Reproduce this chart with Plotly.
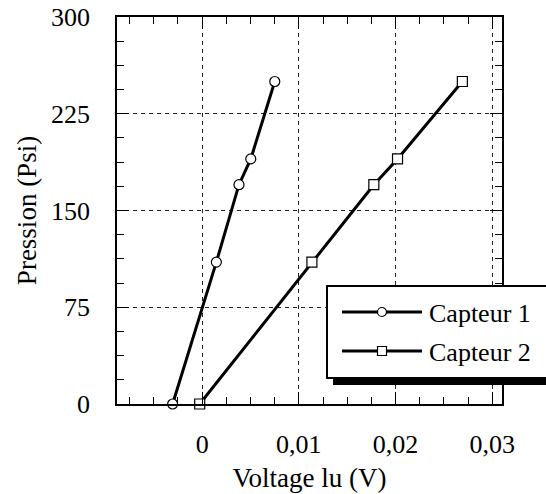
import plotly.graph_objects as go

# ---- data ----
capteur1_v = [-0.00305, 0.00147, 0.00381, 0.00503, 0.00751]
capteur1_p = [0, 110, 170, 190, 250]
capteur2_v = [-0.00025, 0.01135, 0.01775, 0.0202, 0.0269]
capteur2_p = [0, 110, 170, 190, 250]
series_names = ["Capteur 1", "Capteur 2"]
x_tickvals = [0, 0.01, 0.02, 0.03]
x_ticktext = ["0", "0,01", "0,02", "0,03"]
y_tickvals = [0, 75, 150, 225, 300]
y_ticktext = ["0", "75", "150", "225", "300"]

W, H = 546, 494
ML, MR, MT, MB = 117, 44, 17, 90
PW, PH = W - ML - MR, H - MT - MB
FONT = "Liberation Serif"


def px(x):
    return (x - ML) / PW


def py(y):
    return (H - MB - y) / PH


fig = go.Figure()
for name, xs, ys, sym, sz in [
    (series_names[0], capteur1_v, capteur1_p, "circle", 10),
    (series_names[1], capteur2_v, capteur2_p, "square", 10),
]:
    fig.add_trace(go.Scatter(
        x=xs, y=ys, name=name, mode="lines+markers",
        line=dict(color="black", width=3),
        marker=dict(symbol=sym, size=sz, color="white",
                    line=dict(color="black", width=1.2)),
        cliponaxis=False, showlegend=False,
    ))

axis_common = dict(
    showline=True, linecolor="black", linewidth=1.5, mirror="allticks",
    ticks="inside", ticklen=12, tickwidth=1.2, tickcolor="black",
    showgrid=True, gridcolor="#222", gridwidth=1, griddash="4px,4px",
    zeroline=False, tickangle=0,
    tickfont=dict(family=FONT, size=26, color="black"),
)

fig.update_xaxes(
    range=[-0.0088, 0.031], tickvals=x_tickvals, ticktext=x_ticktext,
    minor=dict(dtick=0.0025, tick0=0, ticks="inside", ticklen=7,
               tickcolor="black", tickwidth=1, showgrid=False),
    ticklabelstandoff=16,
    title=dict(text="Voltage lu (V)", font=dict(family=FONT, size=27, color="black"),
               standoff=10),
    **axis_common,
)
fig.update_yaxes(
    range=[0, 300], tickvals=y_tickvals, ticktext=y_ticktext,
    minor=dict(dtick=18.75, tick0=0, ticks="inside", ticklen=7,
               tickcolor="black", tickwidth=1, showgrid=False),
    ticklabelstandoff=20,
    title=dict(text="Pression (Psi)", font=dict(family=FONT, size=27, color="black"),
               standoff=7),
    **axis_common,
)

# ---- custom legend with drop shadow ----
shapes = []
shapes.append(dict(type="rect", xref="paper", yref="paper", layer="above",
                   x0=px(333), x1=px(570), y0=py(385), y1=py(292),
                   fillcolor="black", line=dict(width=0)))
shapes.append(dict(type="rect", xref="paper", yref="paper", layer="above",
                   x0=px(327), x1=px(565), y0=py(378), y1=py(286),
                   fillcolor="white", line=dict(color="black", width=2)))
leg_y = [312, 351]
leg_sym = ["circle", "rect"]
annotations = []
for name, yy, sym in zip(series_names, leg_y, leg_sym):
    shapes.append(dict(type="line", xref="paper", yref="paper", layer="above",
                       x0=px(342), x1=px(422), y0=py(yy), y1=py(yy),
                       line=dict(color="black", width=3)))
    r = 4.5
    shapes.append(dict(type=sym, xref="paper", yref="paper", layer="above",
                       x0=px(382 - r), x1=px(382 + r), y0=py(yy + r), y1=py(yy - r),
                       fillcolor="white", line=dict(color="black", width=1.2)))
    annotations.append(dict(text=name, xref="paper", yref="paper",
                            x=px(427), y=py(yy + 1), xanchor="left", yanchor="middle",
                            showarrow=False,
                            font=dict(family=FONT, size=26, color="black")))

fig.update_layout(
    width=W, height=H,
    margin=dict(l=ML, r=MR, t=MT, b=MB, pad=0, autoexpand=False),
    paper_bgcolor="white", plot_bgcolor="white",
    shapes=shapes, annotations=annotations,
    font=dict(family=FONT, color="black"),
)

fig.write_html("out.html")
